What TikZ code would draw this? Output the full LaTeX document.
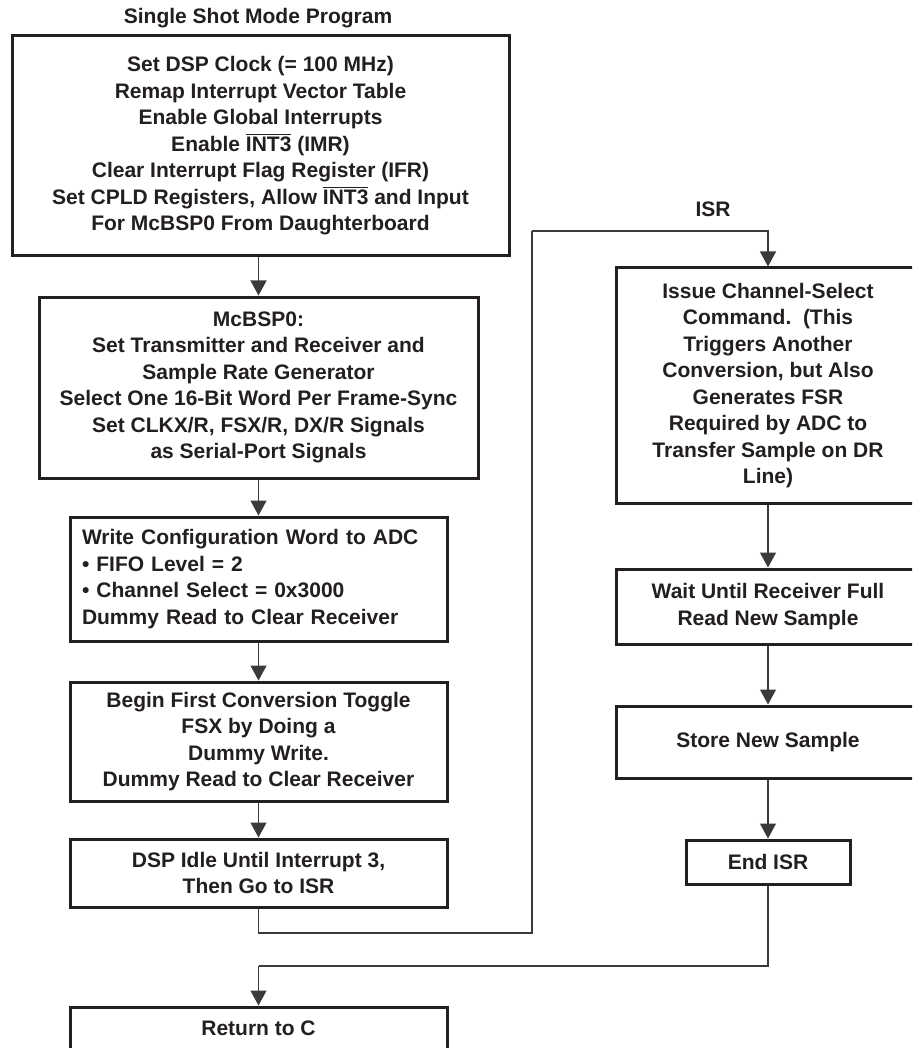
\documentclass[tikz,border=0pt]{standalone}
\usepackage{fontspec}
\setmainfont{Liberation Sans}
\usetikzlibrary{arrows.meta}
\definecolor{ink}{HTML}{231F20}
\definecolor{wire}{HTML}{3A3A3A}
\newcommand{\ovl}[1]{\leavevmode\vbox{\hrule height 1.3pt\kern 1.6pt\hbox{#1}}}
\tikzset{
  box/.style={draw=ink, line width=3pt, fill=white, text=ink, align=center,
    font=\fontsize{21}{26.5}\selectfont\bfseries, inner sep=0pt},
  lbl/.style={text=ink, font=\fontsize{21}{26.5}\selectfont\bfseries, inner sep=0pt},
  conn/.style={draw=wire, line width=1.2pt, -{Triangle[length=15pt,width=16pt]}},
  wirel/.style={draw=wire, line width=1.2pt}
}
\begin{document}
\begin{tikzpicture}[x=1pt,y=-1pt]
\useasboundingbox (0,0) rectangle (912,1048);
\clip (0,0) rectangle (912,1048);
\node[lbl] (title) at (258,18) {Single Shot Mode Program};
\node[box, minimum width=497pt, minimum height=220pt] (b1) at (260.5,146) {Set DSP Clock (= 100 MHz)\\Remap Interrupt Vector Table\\Enable Global Interrupts\\Enable \ovl{INT3} (IMR)\\Clear Interrupt Flag Register (IFR)\\Set CPLD Registers, Allow \ovl{INT3} and Input\\For McBSP0 From Daughterboard};
\node[box, minimum width=439pt, minimum height=181pt] (b2) at (258.5,387.5) {McBSP0:\\Set Transmitter and Receiver and\\Sample Rate Generator\\Select One 16-Bit Word Per Frame-Sync\\Set CLKX/R, FSX/R, DX/R Signals\\as Serial-Port Signals};
\node[box, align=left, text width=353pt, inner xsep=12pt, minimum height=124pt] (b3) at (258.5,579) {Write Configuration Word to ADC\\\textbullet\ FIFO Level = 2\\\textbullet\ Channel Select = 0x3000\\Dummy Read to Clear Receiver};
\node[box, minimum width=377pt, minimum height=119pt] (b4) at (258.5,741.5) {Begin First Conversion Toggle\\FSX by Doing a\\Dummy Write.\\Dummy Read to Clear Receiver};
\node[box, minimum width=377pt, minimum height=68pt] (b5) at (258.5,873) {DSP Idle Until Interrupt 3,\\Then Go to ISR};
\node[box, minimum width=377pt, minimum height=95pt] (ret) at (258.5,1054.5) {Return to C\\ \\ };
\node[lbl] (isr) at (713,209) {ISR};
\node[box, minimum width=304pt, minimum height=235pt] (r1) at (768,385.5) {Issue Channel-Select\\Command.\ \ (This\\Triggers Another\\Conversion, but Also\\Generates FSR\\Required by ADC to\\Transfer Sample on DR\\Line)};
\node[box, minimum width=304pt, minimum height=75pt] (r2) at (768,606.5) {Wait Until Receiver Full\\Read New Sample};
\node[box, minimum width=304pt, minimum height=72pt] (r3) at (768,742) {Store New Sample};
\node[box, minimum width=164pt, minimum height=44pt] (ei) at (768,862) {End ISR};
\coordinate (l1) at (532,933);
\coordinate (l2) at (532,231);
\coordinate (m1) at (258.5,966);
\draw[conn] (b1.south -| b2.north) -- (b2.north);
\draw[conn] (b2) -- (b3);
\draw[conn] (b3) -- (b4);
\draw[conn] (b4) -- (b5);
\draw[wirel] (b5.south) |- (l1) -- (l2);
\draw[conn] (l2) -| (r1.north);
\draw[conn] (r1) -- (r2);
\draw[conn] (r2) -- (r3);
\draw[conn] (r3) -- (ei);
\draw[wirel] (ei.south) |- (m1);
\draw[conn] (m1) -- (ret.north);
\end{tikzpicture}
\end{document}
